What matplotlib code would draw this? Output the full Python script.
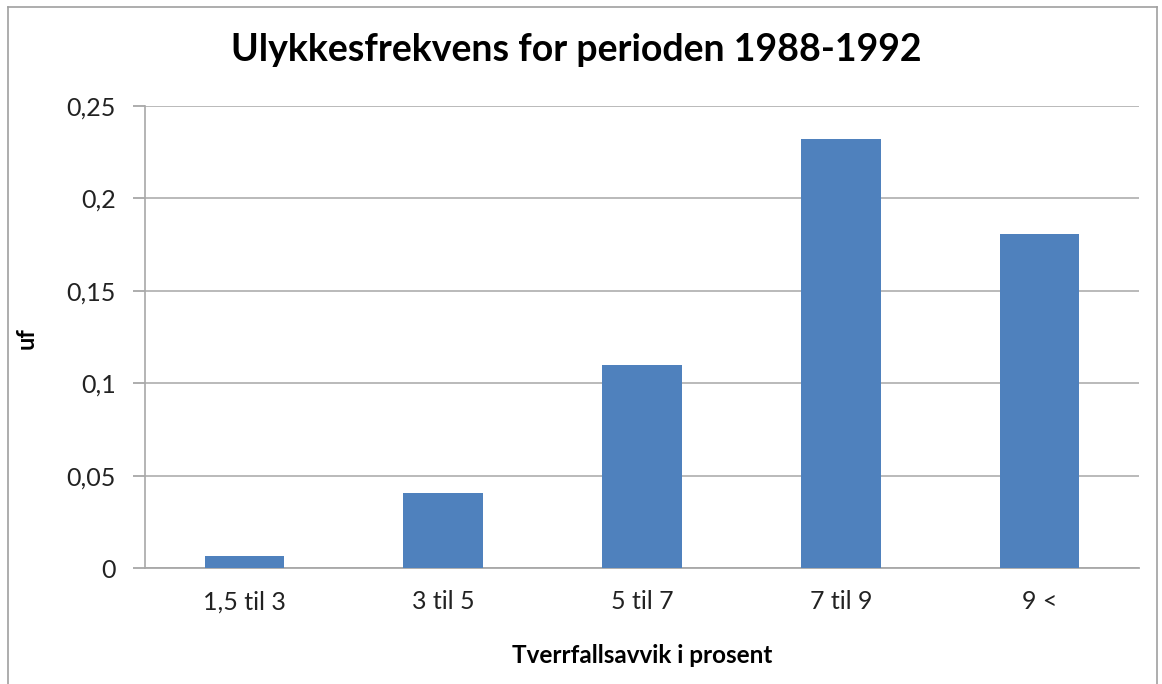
import matplotlib
matplotlib.use("Agg")
import matplotlib.pyplot as plt
from matplotlib.lines import Line2D

categories = ["1,5 til 3", "3 til 5", "5 til 7", "7 til 9", "9 <"]
values = [0.0065, 0.0406, 0.110, 0.232, 0.181]
yticks = [0, 0.05, 0.1, 0.15, 0.2, 0.25]
ytick_labels = ["0", "0,05", "0,1", "0,15", "0,2", "0,25"]

plt.rcParams['font.family'] = ['Lato', 'DejaVu Sans']

W, H = 1162, 684
fig = plt.figure(figsize=(W / 100, H / 100), dpi=100)
ax = fig.add_axes([145 / W, 1 - 568 / H, (1139 - 145) / W, (568 - 106) / H])

x = list(range(len(categories)))
ax.bar(x, values, width=0.40, color="#4F81BD", zorder=3)
ax.set_xlim(-0.5, len(categories) - 0.5)
ax.set_ylim(0, 0.25)
ax.set_yticks(yticks)
ax.set_yticklabels(ytick_labels, fontsize=18, color="#222222")
ax.set_xticks(x)
ax.set_xticklabels(categories, fontsize=18, color="#222222")
ax.tick_params(axis='x', length=0, pad=16)
ax.tick_params(axis='y', length=9, width=1.2, color="#A0A0A0", pad=12)
ax.grid(axis='y', color="#B4B4B4", linewidth=1.3, zorder=0)
for s in ["top", "right"]:
    ax.spines[s].set_visible(False)
ax.spines["left"].set_color("#A8A8A8")
ax.spines["left"].set_linewidth(1.2)
ax.spines["bottom"].set_color("#A8A8A8")
ax.spines["bottom"].set_linewidth(1.3)

ax.set_xlabel("Tverrfallsavvik i prosent", fontsize=17.5, fontweight="bold", labelpad=22)
ax.set_ylabel("uf", fontsize=17, fontweight="bold")
ax.yaxis.set_label_coords((38 - 145) / (1139 - 145), (568 - 338) / (568 - 106))
fig.text(576.5 / W, 1 - 50 / H, "Ulykkesfrekvens for perioden 1988-1992",
         ha="center", va="center", fontsize=27, fontweight="bold")

# outer chart frame
c = "#A0A0A0"
fig.add_artist(Line2D([8 / W, 8 / W], [0, 1 - 7 / H], color=c, lw=1.2, transform=fig.transFigure))
fig.add_artist(Line2D([8 / W, 1157 / W], [1 - 7 / H, 1 - 7 / H], color=c, lw=1.2, transform=fig.transFigure))
fig.add_artist(Line2D([1157 / W, 1157 / W], [0, 1 - 7 / H], color=c, lw=1.2, transform=fig.transFigure))

fig.savefig("out.png", dpi=100)
